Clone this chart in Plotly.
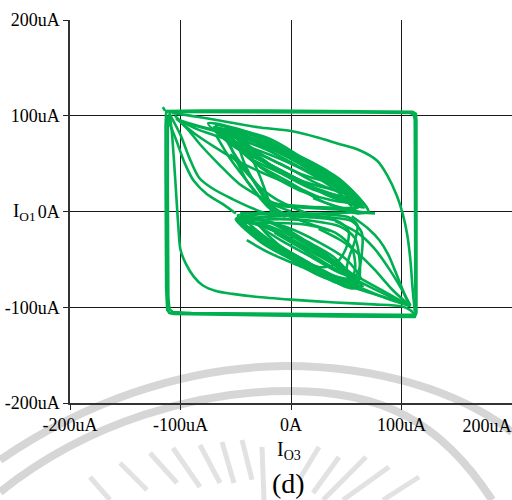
import plotly.graph_objects as go

# ---------------------------------------------------------------------------
# Phase portrait I_O1 versus I_O3 (values in uA), traced as waypoint lists
# ---------------------------------------------------------------------------

start_tick = [(-116, 109), (-114, 105)]

# saturated outer rectangle, two passes
outer_box_1 = [(-114, 105), (-80, 105.5), (-20, 105.5), (40, 105), (95, 104.5), (110, 104),
               (113, 102), (113.5, 95), (113.5, 40), (113.5, -20), (113.5, -80), (113.5, -106),
               (112, -110), (100, -110), (40, -109.5), (-20, -108.5), (-80, -107.5), (-106, -107),
               (-110, -106), (-112, -103), (-113, -80), (-113.5, -20), (-113.5, 40), (-113.5, 90),
               (-113, 103), (-111, 105)]
outer_box_2 = [(-111, 104), (-60, 104), (0, 103.5), (60, 103.5), (108, 103), (111, 101),
               (112, 96), (112, 40), (112, -20), (112.5, -80), (113, -104), (111, -108),
               (95, -108), (30, -107.5), (-30, -107), (-90, -106), (-107, -105), (-110, -102),
               (-111, -90), (-111.5, -30), (-111.5, 30), (-111.5, 85), (-111, 100)]

# inner corner-to-corner sweeps
inner_a = [(-110, 103), (-108, 85), (-106, 55), (-104, 20), (-102, -15), (-100, -40), (-95, -55),
           (-88, -68), (-80, -77), (-68, -83), (-53, -86), (-32, -89), (0, -92), (40, -95),
           (75, -97), (100, -99), (108, -103), (112, -108)]
inner_b = [(-108, 103), (-85, 99), (-55, 93), (-30, 88), (0, 84), (25, 77), (42, 71), (62, 64),
           (78, 53), (87, 38), (96, 16), (101, -2), (105, -23), (108, -50), (110, -80), (112, -104)]

# fans leaving the upper-left corner
tl_fan_1 = [(-110, 102), (-100, 80), (-92, 56), (-83, 35), (-71, 24), (-53, 13), (-32, 2), (-20, -3)]
tl_fan_2 = [(-112, 98), (-104, 75), (-96, 50), (-88, 32), (-76, 18), (-62, 8), (-50, -2)]
tl_fan_3 = [(-105, 100), (-92, 84), (-83, 71), (-65, 49), (-47, 29), (-29, 16), (-15, 7), (0, 0)]
tl_fan_4 = [(-100, 95), (-83, 89), (-52, 80), (-23, 71), (16, 53), (50, 27), (68, 5), (70, 0),
            (60, -2), (43, 4), (20, 14)]
tl_fan_5 = [(-102, 96), (-85, 86), (-65, 78), (-40, 68), (-10, 55), (20, 38), (45, 18), (55, 5)]
tl_fan_6 = [(-104, 97), (-88, 82), (-70, 68), (-50, 54), (-25, 40), (0, 28), (25, 15)]
tl_fan_7 = [(-98, 93), (-78, 87), (-55, 80), (-30, 72), (0, 60), (30, 42), (55, 22), (62, 10)]

# upper scroll: narrow loops along the diagonal
up_1 = [(-70, 88), (-33, 76), (-1, 57), (31, 38), (60, 12), (23, 24), (-9, 43), (-41, 62), (-70, 88)]
up_2 = [(-62, 84), (-27, 77), (2.5, 60), (32, 43), (55, 16), (20, 23), (-9.5, 40), (-39, 57), (-62, 84)]
up_3 = [(-55, 78), (-22, 64.5), (8.5, 46), (39, 27.5), (66, 4), (33, 17.5), (2.5, 36), (-28, 54.5),
        (-55, 78)]
up_4 = [(-75, 92), (-39, 83), (-8.5, 65.5), (22, 48), (48, 22), (12, 31), (-18.5, 48.5), (-49, 66),
        (-75, 92)]
up_5 = [(-45, 72), (-14, 63.5), (12.5, 48), (39, 32.5), (62, 10), (31, 18.5), (4.5, 34), (-22, 49.5),
        (-45, 72)]
up_6 = [(-68, 90), (-37.5, 81), (-10.5, 66), (16.5, 51), (40, 30), (9.5, 39), (-17.5, 54), (-44.5, 69),
        (-68, 90)]
up_7 = [(-60, 86), (-20.5, 76.5), (12, 55), (44.5, 33.5), (70, 0), (30.5, 9.5), (-2, 31), (-34.5, 52.5),
        (-60, 86)]
up_8 = [(-50, 80), (-22, 69), (3.5, 53), (29, 38), (52, 18), (24, 29), (-1.5, 45), (-27, 60), (-50, 80)]
up_9 = [(-70, 88), (-40, 76), (-5, 58), (25, 38), (50, 18), (62, 6), (55, 2), (30, 3), (0, 5),
        (-22, 8), (-35, 25), (-55, 55), (-68, 80)]
up_10 = [(-62, 84), (-30, 72), (5, 52), (35, 30), (55, 12), (58, 5), (35, 4), (5, 6), (-18, 10),
         (-32, 30), (-50, 58), (-60, 78)]
up_11 = [(-58, 82), (-25, 70), (10, 50), (38, 30), (57, 10), (36, 12), (8, 22), (-20, 40), (-42, 60),
         (-58, 82)]
up_12 = [(-66, 86), (-30, 74), (0, 58), (30, 40), (58, 14), (45, 12), (15, 28), (-15, 46), (-45, 66),
         (-66, 86)]
up_13 = [(-52, 80), (-20, 68), (12, 50), (42, 30), (64, 8), (40, 14), (10, 30), (-20, 50), (-52, 80)]

# strands crossing between the two scrolls
knot_1 = [(-58, 78), (-50, 55), (-40, 32), (-28, 14), (-20, 4), (-8, -4)]
knot_2 = [(-48, 70), (-42, 50), (-33, 30), (-24, 14), (-15, 2), (-5, -6)]
knot_3 = [(-38, 62), (-30, 42), (-24, 24), (-20, 10), (-18, -5), (-25, -12)]
knot_4 = [(-55, 60), (-40, 40), (-28, 25), (-15, 14), (0, 5), (15, -2)]
cross_1 = [(-24, 12), (-10, 0), (10, -10), (35, -20)]
cross_2 = [(-46, -2), (-20, -2), (0, -3), (30, -2), (55, -1), (76, -2)]

# lower scroll
low_1 = [(-50, -7), (-30, -3), (0, -2), (30, -3), (52, -6), (60, -14), (58, -30), (52, -50),
         (50, -65), (55, -78), (45, -76), (25, -64), (0, -48), (-25, -30), (-45, -14), (-50, -8)]
low_2 = [(-40, -10), (-10, -8), (20, -10), (45, -16), (58, -28), (62, -50), (62, -68), (58, -80),
         (48, -78), (30, -66), (5, -50), (-20, -32), (-38, -16)]
low_3 = [(-48, -8), (-25, -6), (5, -4), (35, -6), (55, -10), (64, -22), (64, -45), (60, -65),
         (50, -72), (30, -62), (0, -45), (-28, -26), (-46, -12)]
low_4 = [(-50, -8), (-18, -19), (10, -37), (38, -55), (62, -80), (30, -69), (2, -51), (-26, -33), (-50, -8)]
low_5 = [(-45, -6), (-13, -13), (12.5, -30), (38, -47), (58, -74), (26, -67), (0.5, -50), (-25, -33),
         (-45, -6)]
low_6 = [(-40, -10), (-10.75, -22), (15.5, -39), (41.75, -56), (65, -78), (35.75, -66), (9.5, -49),
         (-16.75, -32), (-40, -10)]
low_7 = [(-48, -4), (-18, -12), (7, -28.5), (32, -45), (52, -70), (22, -62), (-3, -45.5), (-28, -29),
         (-48, -4)]
low_8 = [(-30, -12), (-2, -24), (22, -40), (45, -56), (60, -72), (36, -66), (12, -51), (-12, -34),
         (-30, -12)]
low_9 = [(-44, -12), (-15, -12), (15, -14), (40, -22), (55, -38), (58, -60), (52, -76), (40, -74),
         (20, -60), (-5, -42), (-30, -25), (-42, -15)]
low_10 = [(-46, -9), (-20, -5), (15, -6), (42, -10), (52, -20), (50, -38), (40, -55), (25, -58),
          (0, -44), (-25, -27), (-42, -14)]
low_11 = [(-48, -9), (-15, -20), (15, -38), (42, -56), (60, -76), (32, -66), (5, -48), (-22, -30),
          (-48, -9)]
low_12 = [(-36, -8), (-5, -16), (25, -32), (50, -50), (63, -70), (44, -64), (16, -46), (-12, -28),
          (-36, -8)]

# fans returning to the lower-right corner
br_fan_1 = [(-40, -30), (-20, -43), (10, -58), (45, -75), (80, -88), (100, -95), (108, -99)]
br_fan_2 = [(-15, -22), (13, -41), (40, -60), (70, -78), (95, -92), (108, -99)]
br_fan_3 = [(25, -18), (45, -30), (58, -41), (75, -60), (92, -82), (107, -98)]
br_fan_4 = [(55, -5), (70, -18), (80, -30), (88, -45), (97, -70), (104, -90), (108, -99)]
br_fan_5 = [(10, -35), (35, -52), (60, -68), (85, -84), (105, -97)]
br_fan_6 = [(40, -10), (60, -22), (75, -38), (90, -62), (102, -85), (108, -98)]
br_fan_7 = [(-5, -45), (25, -62), (55, -76), (85, -90), (106, -98)]

box_segments = [start_tick, outer_box_1, outer_box_2]
curve_segments = [inner_a, inner_b,
                  tl_fan_1, tl_fan_2, tl_fan_3, tl_fan_4, tl_fan_5, tl_fan_6, tl_fan_7,
                  up_1, up_2, up_3, up_4, up_5, up_6, up_7, up_8, up_9, up_10, up_11,
                  up_12, up_13,
                  knot_1, knot_2, knot_3, knot_4, cross_1, cross_2,
                  low_1, low_2, low_3, low_4, low_5, low_6, low_7, low_8, low_9, low_10,
                  low_11, low_12,
                  br_fan_1, br_fan_2, br_fan_3, br_fan_4, br_fan_5, br_fan_6, br_fan_7]

tick_vals = [-200, -100, 0, 100, 200]
tick_text = ["-200uA", "-100uA", "0A", "100uA", "200uA"]

GREEN = "#00b050"
SERIF = "Liberation Serif, Times New Roman, serif"

fig = go.Figure()
for seg in box_segments:
    fig.add_trace(go.Scatter(x=[p[0] for p in seg], y=[p[1] for p in seg], mode="lines",
                             line=dict(color=GREEN, width=2.6), hoverinfo="skip",
                             showlegend=False))
for seg in curve_segments:
    fig.add_trace(go.Scatter(x=[p[0] for p in seg], y=[p[1] for p in seg], mode="lines",
                             line=dict(color=GREEN, width=2.6, shape="spline", smoothing=0.8),
                             hoverinfo="skip", showlegend=False))

# ---------------------------------------------------------------------------
# faint emblem printed behind the figure (pixel geometry -> paper fractions)
# ---------------------------------------------------------------------------
W, H = 512, 500
ML, MR, MT, MB = 70, 0, 20, 97
PW, PH = W - ML - MR, H - MT - MB


def px(xp, yp):
    return f"{(xp - ML) / PW:.4f},{(H - MB - yp) / PH:.4f}"


arc_paths = [
    f"M {px(0, 460)} C {px(80, 405)} {px(180, 367)} {px(285, 366)} "
    f"C {px(380, 366)} {px(460, 392)} {px(512, 432)}",
    f"M {px(0, 492)} C {px(90, 420)} {px(200, 391)} {px(290, 391)} "
    f"C {px(380, 391)} {px(440, 420)} {px(492, 500)}",
]
shapes = [dict(type="path", path=p, xref="paper", yref="paper", layer="below",
               line=dict(color="#d6d6d6", width=8)) for p in arc_paths]
rays = [((90, 477), (110, 500)), ((120, 463), (147, 490)), ((150, 453), (177, 483)),
        ((173, 448), (200, 487)), ((200, 445), (220, 483)), ((222, 442), (234, 483)),
        ((242, 440), (252, 480)), ((262, 447), (264, 500)), ((319, 447), (299, 480)),
        ((339, 457), (313, 493)), ((366, 457), (323, 500)), ((389, 467), (343, 500)),
        ((419, 477), (383, 500))]
for (a, b) in rays:
    shapes.append(dict(type="path", path=f"M {px(*a)} L {px(*b)}", xref="paper", yref="paper",
                       layer="below", line=dict(color="#e2e2e2", width=5)))

axis_common = dict(range=[-200, 200], showgrid=True, gridcolor="#1a1a1a", gridwidth=1,
                   zeroline=False, showline=True, linecolor="#333333", linewidth=1.5,
                   ticks="outside", ticklen=5, tickcolor="#222222", tickwidth=1,
                   tickfont=dict(family=SERIF, size=18, color="black"))

fig.update_layout(
    width=W, height=H,
    margin=dict(l=ML, r=MR, t=MT, b=MB, autoexpand=False),
    paper_bgcolor="white", plot_bgcolor="rgba(0,0,0,0)",
    shapes=shapes,
    xaxis=dict(**axis_common, tickvals=tick_vals[:-1], ticktext=tick_text[:-1]),
    xaxis2=dict(range=[-200, 200], overlaying="x", side="bottom", anchor="y",
                showgrid=False, zeroline=False, showline=False,
                ticks="outside", ticklen=5, tickcolor="rgba(0,0,0,0)",
                ticklabelstandoff=6,
                tickvals=tick_vals[-1:], ticktext=tick_text[-1:],
                ticklabelposition="outside left",
                tickfont=dict(family=SERIF, size=18, color="black")),
    yaxis=dict(**axis_common, tickvals=tick_vals, ticktext=tick_text),
    annotations=[
        dict(text="I<sub>O1</sub>", xref="paper", yref="y", x=(11 - ML) / PW, y=0,
             xanchor="left", yanchor="middle", showarrow=False,
             font=dict(family=SERIF, size=19, color="black")),
        dict(text="I<sub>O3</sub>", xref="paper", yref="paper", x=(289 - ML) / PW,
             y=(H - MB - 450) / PH, xanchor="center", yanchor="middle", showarrow=False,
             font=dict(family=SERIF, size=20, color="black")),
        dict(text="(d)", xref="paper", yref="paper", x=(288 - ML) / PW,
             y=(H - MB - 483) / PH, xanchor="center", yanchor="middle", showarrow=False,
             font=dict(family=SERIF, size=28, color="black")),
    ],
)
# an empty trace on the overlay axis so its label is rendered
fig.add_trace(go.Scatter(x=[None], y=[None], xaxis="x2", yaxis="y", showlegend=False,
                         hoverinfo="skip"))

fig.write_html("out.html")
